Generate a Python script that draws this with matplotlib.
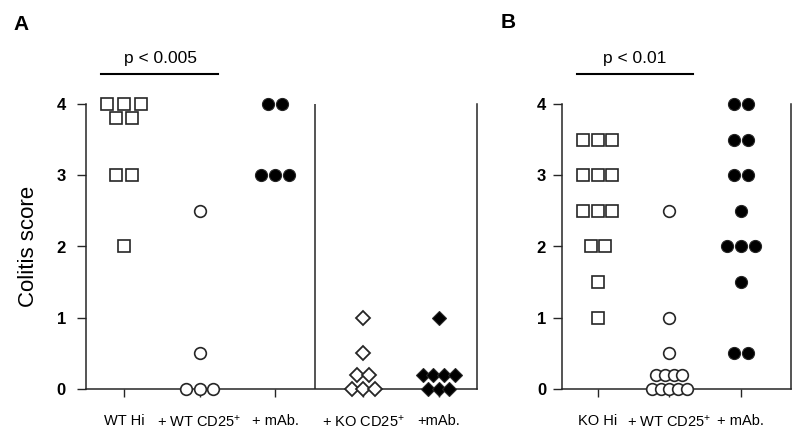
import matplotlib
matplotlib.use("Agg")
import matplotlib.pyplot as plt
from matplotlib.transforms import ScaledTranslation
from collections import Counter

plt.rcParams['font.family'] = ['Liberation Sans', 'DejaVu Sans']
plt.rcParams['mathtext.default'] = 'regular'

# ---------------- data ----------------
a_labels = ["WT Hi", "+ WT CD25$^{+}$", "+ mAb.", "+ KO CD25$^{+}$", "+mAb."]
a_wt_hi = [4, 4, 4, 3.8, 3.8, 3, 3, 2]
a_wt_cd25 = [2.5, 0.5, 0, 0, 0]
a_mab = [4, 4, 3, 3, 3]
a_ko_cd25 = [1, 0.5, 0.2, 0.2, 0, 0, 0]
a_ko_mab = [1, 0.2, 0.2, 0.2, 0.2, 0, 0, 0]

b_labels = ["KO Hi", "+ WT CD25$^{+}$", "+ mAb."]
b_ko_hi = [3.5, 3.5, 3.5, 3, 3, 3, 2.5, 2.5, 2.5, 2, 2, 1.5, 1]
b_wt_cd25 = [2.5, 1, 0.5, 0.2, 0.2, 0.2, 0.2, 0, 0, 0, 0, 0]
b_mab = [4, 4, 3.5, 3.5, 3, 3, 2.5, 2, 2, 2, 1.5, 0.5, 0.5]

y_ticks = [0, 1, 2, 3, 4]
a_pval = "p < 0.005"
b_pval = "p < 0.01"

# ---------------- layout ----------------
W, H = 800, 436
fig = plt.figure(figsize=(W / 100, H / 100), dpi=100)

def px_axes(x0, x1, ytop, ybot):
    return fig.add_axes([x0 / W, 1 - ybot / H, (x1 - x0) / W, (ybot - ytop) / H])

axA = px_axes(86, 477, 104, 389)
axB = px_axes(562, 791, 104, 389)

a_pos = [0.5, 1.5, 2.5, 3.66, 4.66]
b_pos = [0.5, 1.5, 2.5]
axA.set_xlim(0, 5.165)
axB.set_xlim(0, 3.2)

EC = '#262626'

def swarm(ax, xpos, values, marker, ms, face, spacing_pt, mew=1.2):
    counts = Counter(values)
    seen = Counter()
    for v in values:
        n = counts[v]
        i = seen[v]
        seen[v] += 1
        dx = (i - (n - 1) / 2) * spacing_pt
        tr = ax.transData + ScaledTranslation(dx / 72, 0, fig.dpi_scale_trans)
        ax.plot([xpos], [v], marker=marker, ms=ms, mfc=face, mec=EC, mew=mew,
                linestyle='none', transform=tr, clip_on=False, zorder=4)

# Panel A
swarm(axA, a_pos[0], a_wt_hi, 's', 8.4, 'white', 12.0)
swarm(axA, a_pos[1], a_wt_cd25, 'o', 8.4, 'white', 9.6)
swarm(axA, a_pos[2], a_mab, 'o', 8.7, 'black', 10.0, mew=0.8)
swarm(axA, a_pos[3], a_ko_cd25, 'D', 7.5, 'white', 8.3, mew=1.3)
swarm(axA, a_pos[4], a_ko_mab, 'D', 7.2, 'black', 7.6, mew=0.8)

# Panel B
swarm(axB, b_pos[0], b_ko_hi, 's', 8.4, 'white', 10.4)
swarm(axB, b_pos[1], b_wt_cd25, 'o', 8.4, 'white', 6.3)
swarm(axB, b_pos[2], b_mab, 'o', 8.7, 'black', 9.9, mew=0.8)

for ax, labels, pos, pad in ((axA, a_labels, a_pos, 8), (axB, b_labels, b_pos, 5)):
    ax.set_ylim(0, 4)
    ax.set_yticks(y_ticks)
    ax.set_yticklabels([str(t) for t in y_ticks], fontsize=12, fontweight='bold')
    ax.set_xticks(pos)
    ax.set_xticklabels(labels, fontsize=10.5)
    ax.spines['top'].set_visible(False)
    for s in ('left', 'right', 'bottom'):
        ax.spines[s].set_linewidth(1.1)
        ax.spines[s].set_color(EC)
    ax.tick_params(axis='y', direction='out', length=6.5, width=1.0, color=EC, pad=pad)
    ax.tick_params(axis='x', direction='out', length=6, width=1.0, color=EC, pad=12)
    ax.set_facecolor('none')

axA.axvline(3.03, 0, 1, color=EC, lw=1.1, zorder=2)
axA.set_ylabel("Colitis score", fontsize=16, labelpad=13)

# significance bars
def sig(ax, x0, x1, xt, text):
    ax.plot([x0, x1], [4.42, 4.42], color='black', lw=1.5, clip_on=False)
    ax.text(xt, 4.575, text, ha='center', va='baseline', fontsize=12.5)

sig(axA, a_pos[0] - 0.3, a_pos[1] + 0.24, 0.98, a_pval)
sig(axB, b_pos[0] - 0.29, b_pos[1] + 0.33, 1.02, b_pval)

fig.text(13 / W, 1 - 30 / H, "A", fontsize=15, fontweight='bold', va='baseline')
fig.text(501 / W, 1 - 28 / H, "B", fontsize=15, fontweight='bold', va='baseline')

fig.savefig("out.png", dpi=100)
